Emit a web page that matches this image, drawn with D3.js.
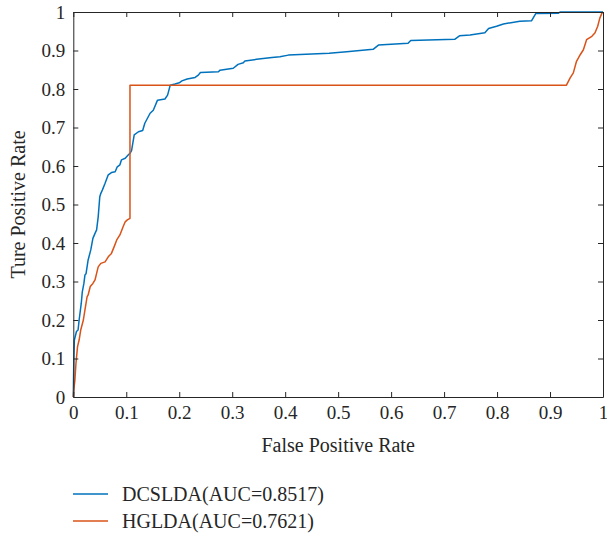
<!DOCTYPE html>
<html>
<head>
<meta charset="utf-8">
<script src="https://cdn.jsdelivr.net/npm/d3@7"></script>
<style>
  body { margin: 0; background: #fff; }
  svg { display: block; }
  svg text { font-family: "Liberation Serif", "DejaVu Serif", "Noto Serif", "Times New Roman", serif !important; }
</style>
</head>
<body>
<div id="chart"></div>
<script>
// ROC points [false positive rate, true positive rate]
const dcslda = [
  [0,0],[0.001,0.1],[0.002,0.148],[0.006,0.17],[0.009,0.174],[0.011,0.2],[0.015,0.243],
  [0.017,0.273],[0.02,0.295],[0.022,0.317],[0.024,0.32],[0.028,0.356],[0.033,0.382],
  [0.037,0.412],[0.041,0.425],[0.044,0.434],[0.047,0.468],[0.05,0.52],[0.052,0.529],
  [0.055,0.538],[0.06,0.555],[0.066,0.577],[0.072,0.583],[0.079,0.585],[0.083,0.598],
  [0.088,0.603],[0.091,0.616],[0.098,0.62],[0.104,0.629],[0.107,0.633],[0.11,0.64],
  [0.115,0.681],[0.123,0.689],[0.131,0.692],[0.135,0.711],[0.145,0.737],[0.151,0.745],
  [0.159,0.771],[0.173,0.774],[0.178,0.784],[0.183,0.81],[0.192,0.813],[0.2,0.816],
  [0.205,0.821],[0.215,0.826],[0.23,0.83],[0.236,0.836],[0.24,0.843],[0.274,0.845],
  [0.277,0.849],[0.302,0.854],[0.311,0.864],[0.321,0.868],[0.324,0.873],[0.346,0.877],
  [0.375,0.882],[0.39,0.884],[0.406,0.888],[0.483,0.893],[0.516,0.897],[0.566,0.903],
  [0.576,0.914],[0.632,0.919],[0.637,0.926],[0.72,0.929],[0.729,0.938],[0.749,0.94],
  [0.777,0.946],[0.784,0.957],[0.799,0.963],[0.812,0.969],[0.843,0.976],[0.865,0.977],
  [0.873,0.996],[0.916,0.997],[0.919,1],[1,1]
];
const hglda = [
  [0,0],[0.001,0.02],[0.003,0.044],[0.005,0.087],[0.008,0.131],[0.011,0.148],[0.014,0.174],
  [0.019,0.2],[0.022,0.226],[0.026,0.26],[0.028,0.265],[0.032,0.287],[0.037,0.295],
  [0.041,0.304],[0.044,0.321],[0.047,0.338],[0.052,0.347],[0.06,0.351],[0.066,0.364],
  [0.072,0.373],[0.077,0.39],[0.082,0.408],[0.088,0.421],[0.094,0.442],[0.098,0.455],
  [0.102,0.46],[0.107,0.464],[0.107,0.81],[0.931,0.81],[0.938,0.829],[0.944,0.842],
  [0.95,0.872],[0.957,0.889],[0.963,0.902],[0.969,0.928],[0.979,0.937],[0.985,0.946],
  [0.99,0.963],[0.994,0.984],[0.998,0.997],[1,1]
];
const seriesNames = ["DCSLDA(AUC=0.8517)", "HGLDA(AUC=0.7621)"];
const xTicks = [0, 0.1, 0.2, 0.3, 0.4, 0.5, 0.6, 0.7, 0.8, 0.9, 1];
const yTicks = [0, 0.1, 0.2, 0.3, 0.4, 0.5, 0.6, 0.7, 0.8, 0.9, 1];

const width = 607, height = 533;
const plotLeft = 73.3, plotRight = 603, plotTop = 12, plotBottom = 397;
const axisColor = "#262626";
const colors = ["#0072BD", "#D95319"];

const svg = d3.select("#chart").append("svg")
  .attr("width", width)
  .attr("height", height);

const x = d3.scaleLinear().domain([0, 1]).range([plotLeft, plotRight]);
const y = d3.scaleLinear().domain([0, 1]).range([plotBottom, plotTop]);
const fmt = d3.format("~g");

// curves
const line = d3.line().x(d => x(d[0])).y(d => y(d[1]));
[dcslda, hglda].forEach((data, i) => {
  svg.append("path")
    .datum(data)
    .attr("fill", "none")
    .attr("stroke", colors[i])
    .attr("stroke-width", 1.5)
    .attr("stroke-linejoin", "round")
    .attr("d", line);
});

// box axes, ticks pointing inward
function styleAxis(g) {
  g.attr("font-family", null);
  g.select(".domain").attr("stroke", axisColor);
  g.selectAll(".tick line").attr("stroke", axisColor);
  g.selectAll(".tick text")
    .attr("fill", axisColor)
    .style("font-size", "19px");
}
svg.append("g")
  .attr("transform", `translate(0,${plotBottom})`)
  .call(d3.axisBottom(x).tickValues(xTicks).tickFormat(fmt).tickSize(-5).tickSizeOuter(0).tickPadding(9))
  .call(styleAxis);
svg.append("g")
  .attr("transform", `translate(${plotLeft},0)`)
  .call(d3.axisLeft(y).tickValues(yTicks).tickFormat(fmt).tickSize(-5).tickSizeOuter(0).tickPadding(8))
  .call(styleAxis);
svg.append("g")
  .attr("transform", `translate(0,${plotTop})`)
  .call(d3.axisTop(x).tickValues(xTicks).tickFormat("").tickSize(-5).tickSizeOuter(0))
  .call(styleAxis);
svg.append("g")
  .attr("transform", `translate(${plotRight},0)`)
  .call(d3.axisRight(y).tickValues(yTicks).tickFormat("").tickSize(-5).tickSizeOuter(0))
  .call(styleAxis);

// axis titles
svg.append("text")
  .attr("x", (plotLeft + plotRight) / 2)
  .attr("y", 452)
  .attr("text-anchor", "middle")
  .attr("fill", axisColor)
  .style("font-size", "20px")
  .text("False Positive Rate");
svg.append("text")
  .attr("transform", `translate(25,${(plotTop + plotBottom) / 2}) rotate(-90)`)
  .attr("text-anchor", "middle")
  .attr("fill", axisColor)
  .style("font-size", "20px")
  .text("Ture Positive Rate");

// legend
const legend = svg.append("g");
seriesNames.forEach((name, i) => {
  const ly = 494 + i * 27;
  legend.append("line")
    .attr("x1", 73).attr("x2", 108)
    .attr("y1", ly).attr("y2", ly)
    .attr("stroke", colors[i])
    .attr("stroke-width", 1.5);
  legend.append("text")
    .attr("x", 122)
    .attr("y", ly + 7)
    .attr("fill", axisColor)
    .style("font-size", "20px")
    .text(name);
});
</script>
</body>
</html>
